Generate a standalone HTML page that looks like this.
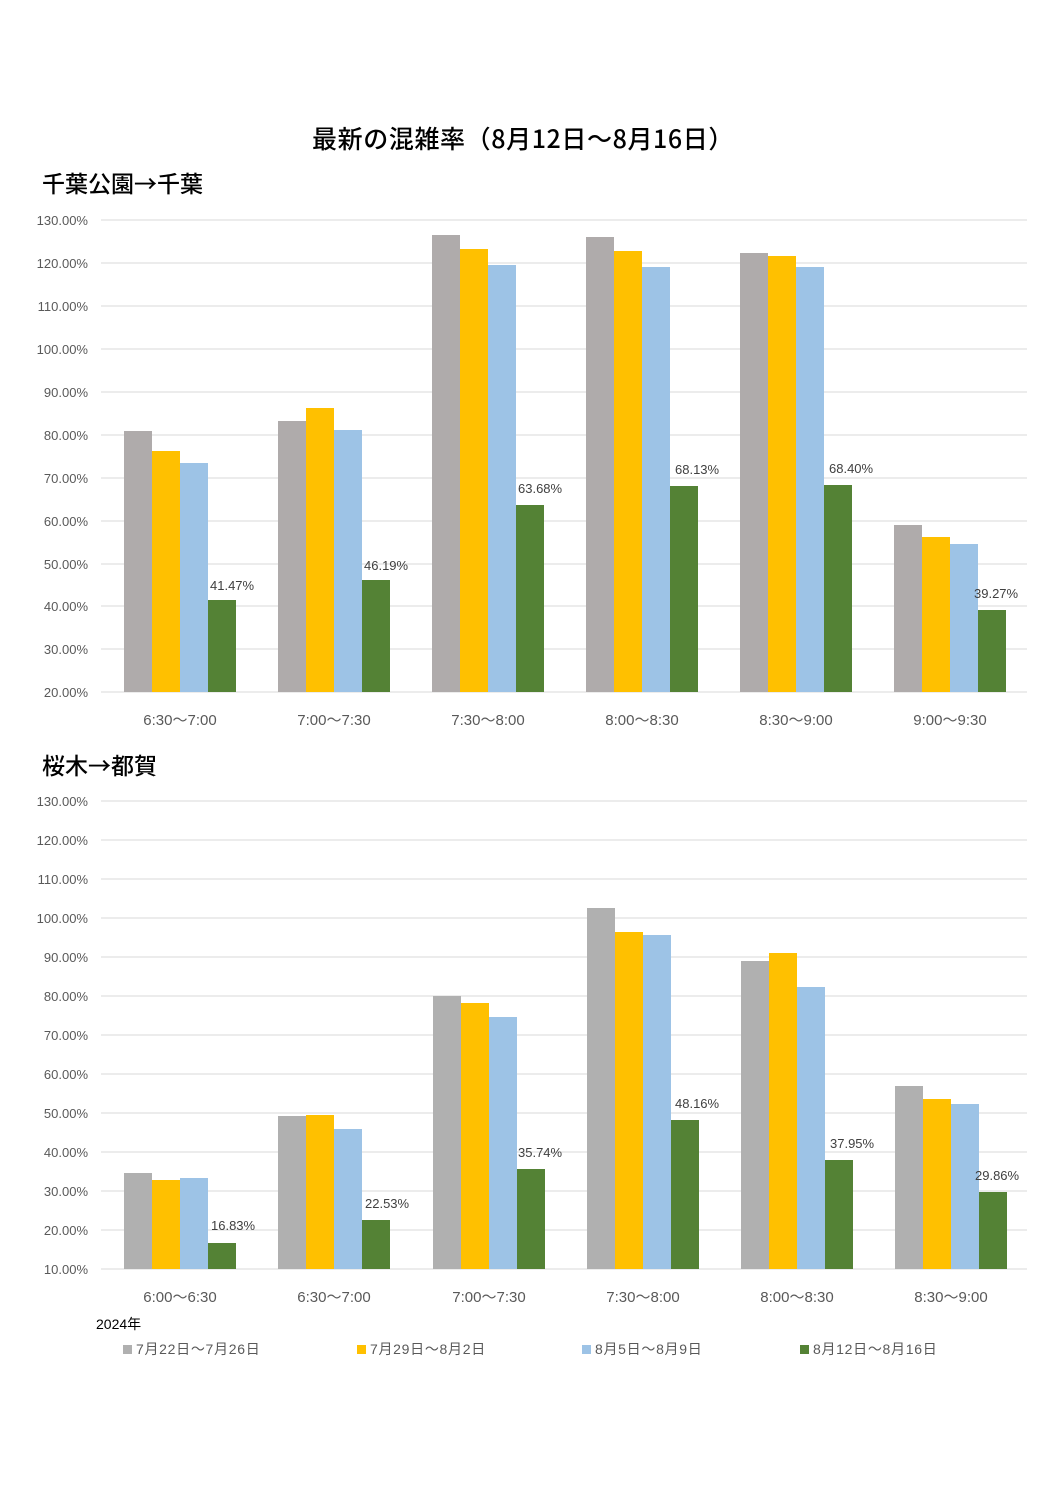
<!DOCTYPE html>
<html><head><meta charset="utf-8"><style>
html,body{margin:0;padding:0;background:#fff;}
svg{display:block;font-family:"Liberation Sans","Noto Sans CJK JP",sans-serif;}
.h{font-family:"Noto Sans CJK JP",sans-serif;font-weight:500;}
.ax{font-size:13px;fill:#595959;text-anchor:end;}
.xl{font-size:15px;fill:#595959;text-anchor:middle;}
.dl{font-size:13px;fill:#404040;}
.g{stroke:#d9d9d9;stroke-width:1;}
</style></head><body>
<svg width="1058" height="1496" viewBox="0 0 1058 1496">
<text class="h" x="523" y="148" font-size="25" letter-spacing="0.6" text-anchor="middle" fill="#000">最新の混雑率（8月12日～8月16日）</text>
<text class="h" x="42" y="192" font-size="23" fill="#000">千葉公園→千葉</text>
<text class="h" x="42" y="774" font-size="23" fill="#000">桜木→都賀</text>
<!-- chart1 grid -->
<g class="g">
<line x1="101" x2="1027" y1="220" y2="220"/><line x1="101" x2="1027" y1="263" y2="263"/>
<line x1="101" x2="1027" y1="306" y2="306"/><line x1="101" x2="1027" y1="349" y2="349"/>
<line x1="101" x2="1027" y1="392" y2="392"/><line x1="101" x2="1027" y1="435" y2="435"/>
<line x1="101" x2="1027" y1="478" y2="478"/><line x1="101" x2="1027" y1="521" y2="521"/>
<line x1="101" x2="1027" y1="564" y2="564"/><line x1="101" x2="1027" y1="606" y2="606"/>
<line x1="101" x2="1027" y1="649" y2="649"/><line x1="101" x2="1027" y1="692" y2="692"/>
</g>
<g class="ax">
<text x="88" y="225">130.00%</text><text x="88" y="268">120.00%</text><text x="88" y="311">110.00%</text>
<text x="88" y="354">100.00%</text><text x="88" y="397">90.00%</text><text x="88" y="440">80.00%</text>
<text x="88" y="483">70.00%</text><text x="88" y="526">60.00%</text><text x="88" y="569">50.00%</text>
<text x="88" y="611">40.00%</text><text x="88" y="654">30.00%</text><text x="88" y="697">20.00%</text>
</g>
<g>
<rect x="124" y="431" width="28" height="261" fill="#afabab"/><rect x="152" y="451" width="28" height="241" fill="#ffc000"/><rect x="180" y="463" width="28" height="229" fill="#9dc3e6"/><rect x="208" y="600" width="28" height="92" fill="#548235"/>
<rect x="278" y="421" width="28" height="271" fill="#afabab"/><rect x="306" y="408" width="28" height="284" fill="#ffc000"/><rect x="334" y="430" width="28" height="262" fill="#9dc3e6"/><rect x="362" y="580" width="28" height="112" fill="#548235"/>
<rect x="432" y="235" width="28" height="457" fill="#afabab"/><rect x="460" y="249" width="28" height="443" fill="#ffc000"/><rect x="488" y="265" width="28" height="427" fill="#9dc3e6"/><rect x="516" y="505" width="28" height="187" fill="#548235"/>
<rect x="586" y="237" width="28" height="455" fill="#afabab"/><rect x="614" y="251" width="28" height="441" fill="#ffc000"/><rect x="642" y="267" width="28" height="425" fill="#9dc3e6"/><rect x="670" y="486" width="28" height="206" fill="#548235"/>
<rect x="740" y="253" width="28" height="439" fill="#afabab"/><rect x="768" y="256" width="28" height="436" fill="#ffc000"/><rect x="796" y="267" width="28" height="425" fill="#9dc3e6"/><rect x="824" y="485" width="28" height="207" fill="#548235"/>
<rect x="894" y="525" width="28" height="167" fill="#afabab"/><rect x="922" y="537" width="28" height="155" fill="#ffc000"/><rect x="950" y="544" width="28" height="148" fill="#9dc3e6"/><rect x="978" y="610" width="28" height="82" fill="#548235"/>
</g>
<g class="dl">
<text x="210" y="590">41.47%</text><text x="364" y="570">46.19%</text><text x="518" y="493">63.68%</text>
<text x="675" y="474">68.13%</text><text x="829" y="473">68.40%</text><text x="974" y="598">39.27%</text>
</g>
<g class="xl">
<text x="180" y="725">6:30～7:00</text><text x="334" y="725">7:00～7:30</text><text x="488" y="725">7:30～8:00</text>
<text x="642" y="725">8:00～8:30</text><text x="796" y="725">8:30～9:00</text><text x="950" y="725">9:00～9:30</text>
</g>
<!-- chart2 -->
<g class="g">
<line x1="101" x2="1027" y1="801" y2="801"/><line x1="101" x2="1027" y1="840" y2="840"/>
<line x1="101" x2="1027" y1="879" y2="879"/><line x1="101" x2="1027" y1="918" y2="918"/>
<line x1="101" x2="1027" y1="957" y2="957"/><line x1="101" x2="1027" y1="996" y2="996"/>
<line x1="101" x2="1027" y1="1035" y2="1035"/><line x1="101" x2="1027" y1="1074" y2="1074"/>
<line x1="101" x2="1027" y1="1113" y2="1113"/><line x1="101" x2="1027" y1="1152" y2="1152"/>
<line x1="101" x2="1027" y1="1191" y2="1191"/><line x1="101" x2="1027" y1="1230" y2="1230"/>
<line x1="101" x2="1027" y1="1269" y2="1269"/>
</g>
<g class="ax">
<text x="88" y="806">130.00%</text><text x="88" y="845">120.00%</text><text x="88" y="884">110.00%</text>
<text x="88" y="923">100.00%</text><text x="88" y="962">90.00%</text><text x="88" y="1001">80.00%</text>
<text x="88" y="1040">70.00%</text><text x="88" y="1079">60.00%</text><text x="88" y="1118">50.00%</text>
<text x="88" y="1157">40.00%</text><text x="88" y="1196">30.00%</text><text x="88" y="1235">20.00%</text>
<text x="88" y="1274">10.00%</text>
</g>
<g>
<rect x="124" y="1173" width="28" height="96" fill="#b0b0b0"/><rect x="152" y="1180" width="28" height="89" fill="#ffc000"/><rect x="180" y="1178" width="28" height="91" fill="#9dc3e6"/><rect x="208" y="1243" width="28" height="26" fill="#548235"/>
<rect x="278" y="1116" width="28" height="153" fill="#b0b0b0"/><rect x="306" y="1115" width="28" height="154" fill="#ffc000"/><rect x="334" y="1129" width="28" height="140" fill="#9dc3e6"/><rect x="362" y="1220" width="28" height="49" fill="#548235"/>
<rect x="433" y="996" width="28" height="273" fill="#b0b0b0"/><rect x="461" y="1003" width="28" height="266" fill="#ffc000"/><rect x="489" y="1017" width="28" height="252" fill="#9dc3e6"/><rect x="517" y="1169" width="28" height="100" fill="#548235"/>
<rect x="587" y="908" width="28" height="361" fill="#b0b0b0"/><rect x="615" y="932" width="28" height="337" fill="#ffc000"/><rect x="643" y="935" width="28" height="334" fill="#9dc3e6"/><rect x="671" y="1120" width="28" height="149" fill="#548235"/>
<rect x="741" y="961" width="28" height="308" fill="#b0b0b0"/><rect x="769" y="953" width="28" height="316" fill="#ffc000"/><rect x="797" y="987" width="28" height="282" fill="#9dc3e6"/><rect x="825" y="1160" width="28" height="109" fill="#548235"/>
<rect x="895" y="1086" width="28" height="183" fill="#b0b0b0"/><rect x="923" y="1099" width="28" height="170" fill="#ffc000"/><rect x="951" y="1104" width="28" height="165" fill="#9dc3e6"/><rect x="979" y="1192" width="28" height="77" fill="#548235"/>
</g>
<g class="dl">
<text x="211" y="1230">16.83%</text><text x="365" y="1208">22.53%</text><text x="518" y="1157">35.74%</text>
<text x="675" y="1108">48.16%</text><text x="830" y="1148">37.95%</text><text x="975" y="1180">29.86%</text>
</g>
<g class="xl">
<text x="180" y="1302">6:00～6:30</text><text x="334" y="1302">6:30～7:00</text><text x="489" y="1302">7:00～7:30</text>
<text x="643" y="1302">7:30～8:00</text><text x="797" y="1302">8:00～8:30</text><text x="951" y="1302">8:30～9:00</text>
</g>
<text x="96" y="1329" font-size="14" fill="#000">2024年</text>
<g font-size="14" fill="#595959" letter-spacing="0.7">
<rect x="123" y="1345" width="9" height="9" fill="#b0b0b0"/><text x="136" y="1354">7月22日～7月26日</text>
<rect x="357" y="1345" width="9" height="9" fill="#ffc000"/><text x="370" y="1354">7月29日～8月2日</text>
<rect x="582" y="1345" width="9" height="9" fill="#9dc3e6"/><text x="595" y="1354">8月5日～8月9日</text>
<rect x="800" y="1345" width="9" height="9" fill="#548235"/><text x="813" y="1354">8月12日～8月16日</text>
</g>
</svg>
</body></html>
